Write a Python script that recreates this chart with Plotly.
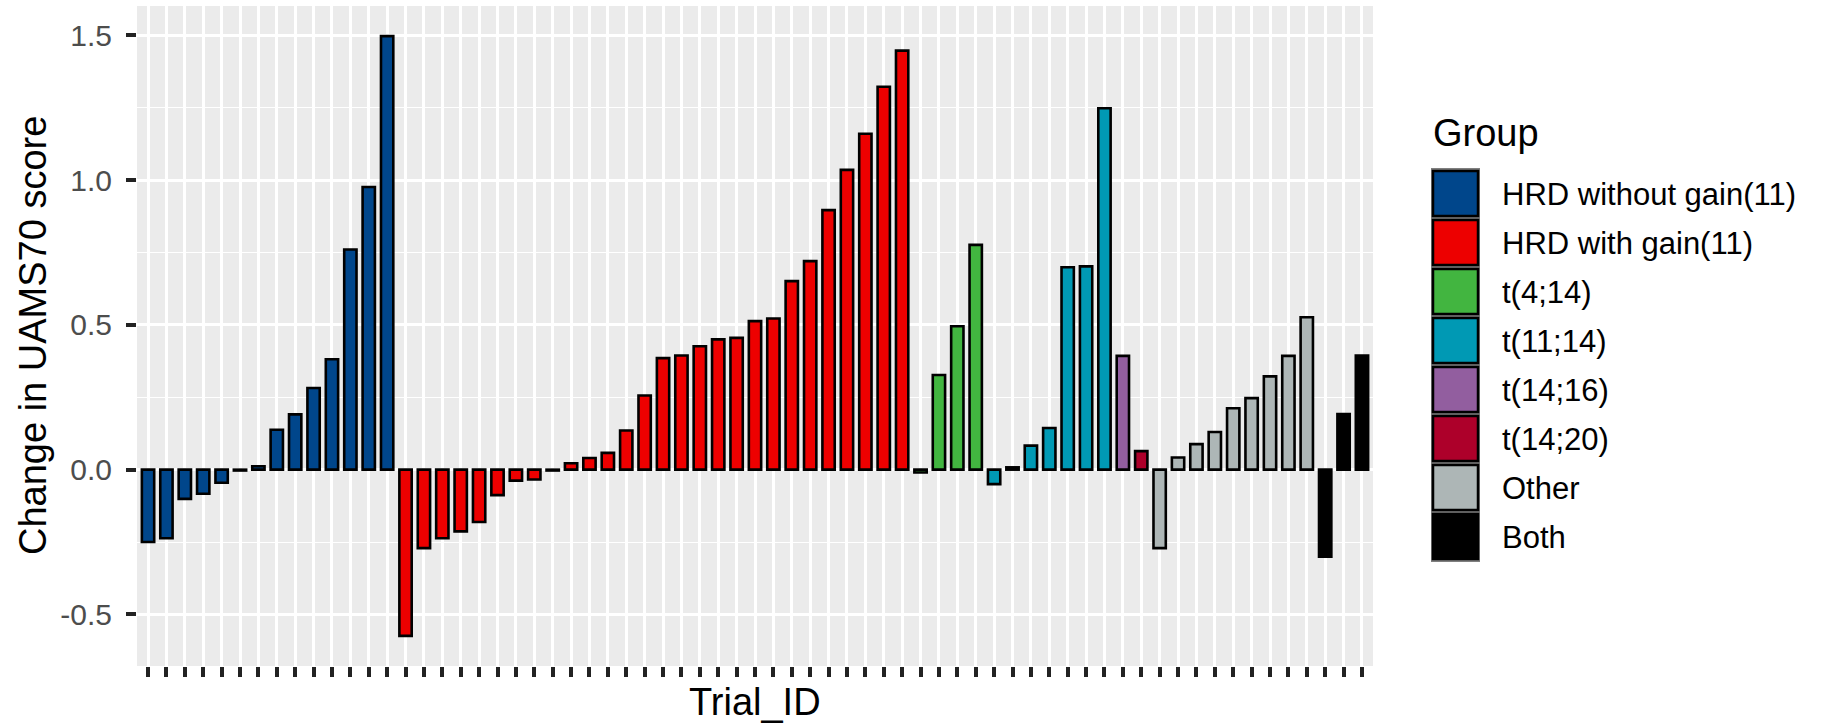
import plotly.graph_objects as go

# Group names, in legend order, and their fill colours
group_names = [
    "HRD without gain(11)",
    "HRD with gain(11)",
    "t(4;14)",
    "t(11;14)",
    "t(14;16)",
    "t(14;20)",
    "Other",
    "Both",
]
group_colors = [
    "#00468B",
    "#ED0000",
    "#42B540",
    "#0099B4",
    "#925E9F",
    "#AD002A",
    "#ADB6B6",
    "#000000",
]

# One entry per trial, left to right: group index and change in UAMS70 score
trial_group = [
    0, 0, 0, 0, 0, 0, 0, 0, 0, 0, 0, 0, 0, 0,
    1, 1, 1, 1, 1, 1, 1, 1, 1, 1, 1, 1, 1, 1,
    1, 1, 1, 1, 1, 1, 1, 1, 1, 1, 1, 1, 1, 1,
    2, 2, 2, 2,
    3, 3, 3, 3, 3, 3, 3,
    4,
    5,
    6, 6, 6, 6, 6, 6, 6, 6, 6,
    7, 7, 7,
]
score_change = [
    -0.250, -0.237, -0.101, -0.083, -0.045, -0.003, 0.012, 0.138, 0.191, 0.282,
    0.381, 0.760, 0.976, 1.497,
    -0.574, -0.271, -0.237, -0.213, -0.181, -0.088, -0.038, -0.034, -0.003, 0.022,
    0.040, 0.058, 0.135, 0.256, 0.385, 0.394, 0.426, 0.450, 0.455, 0.513,
    0.522, 0.651, 0.720, 0.896, 1.035, 1.160, 1.322, 1.447,
    -0.010, 0.327, 0.495, 0.776,
    -0.050, 0.008, 0.083, 0.144, 0.699, 0.702, 1.248,
    0.393,
    0.064,
    -0.271, 0.042, 0.088, 0.130, 0.212, 0.247, 0.322, 0.393, 0.526,
    -0.301, 0.192, 0.394,
]
trial_ids = [f"ID{i + 1:02d}" for i in range(len(score_change))]

W, H = 1823, 728
L, R, T, B = 137, 1373, 6, 666

fig = go.Figure()
for g, (name, color) in enumerate(zip(group_names, group_colors)):
    xs = [tid for tid, gi in zip(trial_ids, trial_group) if gi == g]
    ys = [v for v, gi in zip(score_change, trial_group) if gi == g]
    fig.add_trace(go.Bar(
        x=xs, y=ys, name=name, width=0.67,
        marker=dict(color=color, line=dict(color="#000000", width=2.6)),
        showlegend=False,
    ))

fig.update_layout(
    width=W, height=H,
    margin=dict(l=L, r=W - R, t=T, b=H - B),
    paper_bgcolor="white",
    plot_bgcolor="#EBEBEB",
    barmode="overlay",
    font=dict(family="Liberation Sans, Arial, sans-serif", color="#000000"),
    xaxis=dict(
        type="category",
        categoryorder="array", categoryarray=trial_ids,
        range=[-0.6, len(trial_ids) - 0.4],
        tickmode="array", tickvals=trial_ids,
        showticklabels=False,
        ticks="outside", ticklen=10, tickwidth=3.5, tickcolor="#222222",
        showgrid=True, gridcolor="white", gridwidth=2.5,
        zeroline=False, showline=False,
    ),
    yaxis=dict(
        range=[-0.678, 1.601],
        tickmode="array",
        tickvals=[-0.5, 0.0, 0.5, 1.0, 1.5],
        ticktext=["-0.5", "0.0", "0.5", "1.0", "1.5"],
        ticks="outside", ticklen=10, tickwidth=3.5, tickcolor="#222222",
        ticklabelstandoff=8,
        tickfont=dict(size=30, color="#4D4D4D"),
        showgrid=True, gridcolor="white", gridwidth=2.5,
        minor=dict(tickmode="array", tickvals=[-0.25, 0.25, 0.75, 1.25],
                   showgrid=True, gridcolor="white", gridwidth=1.3, ticks=""),
        zeroline=False, showline=False,
    ),
)

pw = R - L
ph = B - T


def px_x(x):
    return (x - L) / pw


def px_y(y):
    return (B - y) / ph


annotations = [
    dict(text="Change in UAMS70 score", textangle=-90,
         x=px_x(33), y=0.5, xref="paper", yref="paper",
         xanchor="center", yanchor="middle", showarrow=False,
         font=dict(size=38, color="#000000")),
    dict(text="Trial_ID",
         x=0.5, y=px_y(702), xref="paper", yref="paper",
         xanchor="center", yanchor="middle", showarrow=False,
         font=dict(size=38, color="#000000")),
    dict(text="Group",
         x=px_x(1431), y=px_y(133), xref="paper", yref="paper",
         xanchor="left", yanchor="middle", showarrow=False,
         font=dict(size=38, color="#000000")),
]

# Legend drawn as key boxes with labels
shapes = []
key_top, key_pitch = 169, 49
key_x0, key_x1 = 1432, 1479
shapes.append(dict(type="rect", xref="paper", yref="paper",
                   x0=px_x(key_x0 - 1), x1=px_x(key_x1 + 1),
                   y0=px_y(key_top + key_pitch * len(group_names) + 1),
                   y1=px_y(key_top - 1),
                   fillcolor="#7F7F7F", line=dict(width=0), layer="above"))
for k, (name, color) in enumerate(zip(group_names, group_colors)):
    y0 = key_top + k * key_pitch + 1
    y1 = y0 + key_pitch - 2
    shapes.append(dict(type="rect", xref="paper", yref="paper",
                       x0=px_x(key_x0 + 1), x1=px_x(key_x1 - 1),
                       y0=px_y(y1 - 1), y1=px_y(y0 + 1),
                       fillcolor=color, line=dict(color="#000000", width=2.5),
                       layer="above"))
    annotations.append(dict(text=name,
                            x=px_x(1500), y=px_y((y0 + y1) / 2 + 1),
                            xref="paper", yref="paper",
                            xanchor="left", yanchor="middle", showarrow=False,
                            font=dict(size=31, color="#000000")))

fig.update_layout(annotations=annotations, shapes=shapes)
fig.write_html("out.html")
